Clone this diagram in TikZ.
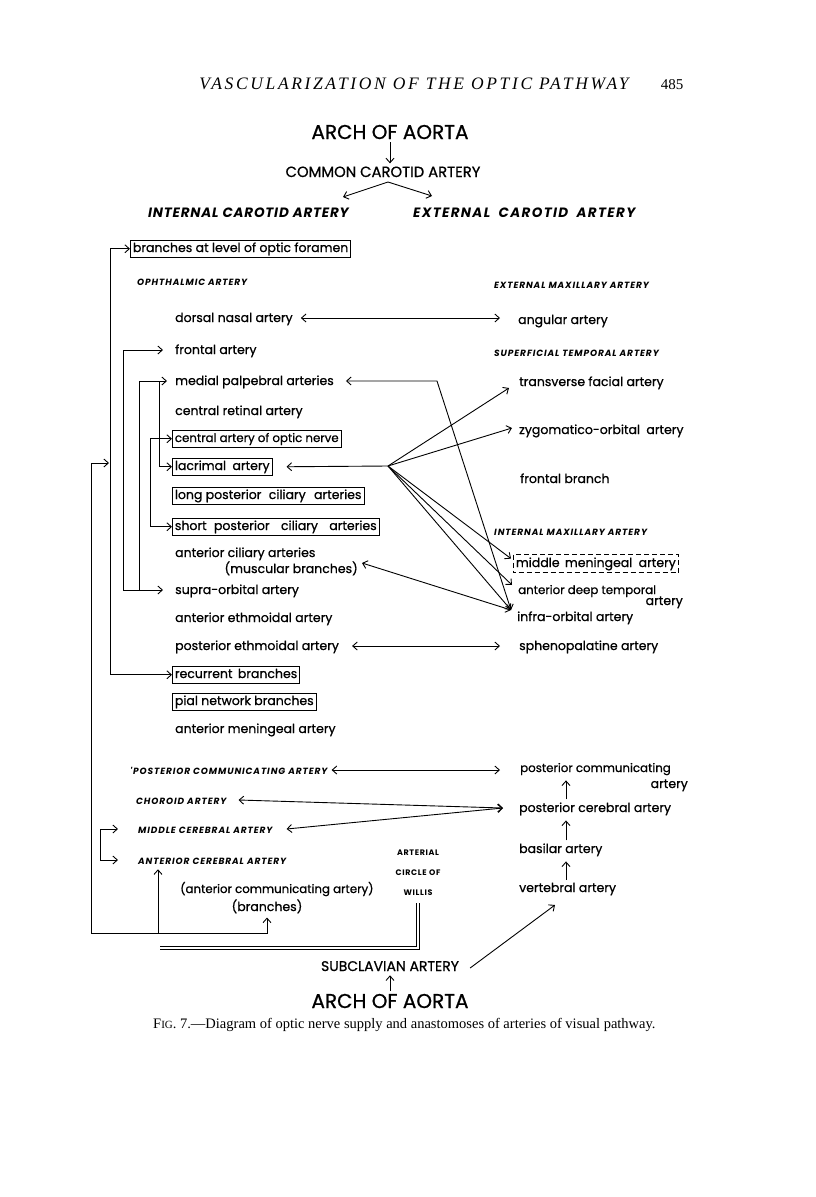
\documentclass[tikz,border=0pt]{standalone}
\usepackage{fontspec}
\setmainfont{Poppins}[FakeBold=0.8]
\newfontfamily\serif{Liberation Serif}
\newfontfamily\hdrfont{Liberation Serif}[LetterSpace=15]
\newfontfamily\hdfont{Poppins}[LetterSpace=10]
\newfontfamily\icafont{Poppins}[LetterSpace=6]
\newfontfamily\ecafont{Poppins}[LetterSpace=10]
\newfontfamily\wlfont{Poppins}[LetterSpace=8]
\usetikzlibrary{arrows.meta}
\newcommand{\gap}[1]{\hspace*{#1}}
\begin{document}
\begin{tikzpicture}[x=1pt,y=-1pt,
  every node/.style={inner sep=0pt, anchor=base west},
  txt/.style={font=\fontsize{12.5}{14}\selectfont},
  stxt/.style={font=\fontsize{11.8}{13}\selectfont},
  hd/.style={font=\hdfont\fontsize{9}{10}\selectfont\bfseries\itshape},
  bigcap/.style={font=\fontsize{13.5}{15}\selectfont\bfseries\itshape},
  wl/.style={font=\wlfont\fontsize{8}{9}\selectfont\bfseries, anchor=base},
  bx/.style={txt, draw, line width=0.8pt, inner xsep=2.5pt, inner ysep=2.5pt, text height=9.5pt, text depth=3pt},
  ln/.style={line width=0.9pt},
  arr/.style={ln, -{Straight Barb[length=4.5pt,width=8pt]}},
  dar/.style={ln, {Straight Barb[length=4.5pt,width=8pt]}-{Straight Barb[length=4.5pt,width=8pt]}},
]
\useasboundingbox[fill=white] (0,0) rectangle (816,1197);

% header
\node[font=\hdrfont\itshape\fontsize{17.5}{20}\selectfont, anchor=base] (hdr) at (414,89) {VASCULARIZATION OF THE OPTIC PATHWAY};
\node[font=\serif\fontsize{15}{17}\selectfont, anchor=base] (pg) at (672,89) {485};

% top
\node[font=\fontsize{20}{22}\selectfont, anchor=base] (arch1) at (390,139) {ARCH OF AORTA};
\node[font=\fontsize{14.8}{16}\selectfont, anchor=base] (cca) at (383,177) {COMMON CAROTID ARTERY};
\node[bigcap, font=\icafont\fontsize{13.5}{15}\selectfont\bfseries\itshape] (ica) at (148,217) {INTERNAL CAROTID ARTERY};
\node[bigcap, font=\ecafont\fontsize{13.5}{15}\selectfont\bfseries\itshape] (eca) at (413,217) {EXTERNAL\gap{4pt} CAROTID\gap{4pt} ARTERY};

% left column
\node[bx] (bal) at (130,252) {branches at level of optic foramen};
\node[hd] (oph) at (137,285) {OPHTHALMIC ARTERY};
\node[txt] (dn) at (175,322) {dorsal nasal artery};
\node[txt] (fr) at (175,354) {frontal artery};
\node[txt] (mp) at (175,385) {medial palpebral arteries};
\node[txt] (cr) at (175,415) {central retinal artery};
\node[bx, stxt] (caon) at (172,442) {central artery of optic nerve};
\node[bx] (lac) at (172,470) {lacrimal\gap{3pt} artery};
\node[bx] (lpca) at (172,499) {long posterior\gap{4pt} ciliary\gap{5pt} arteries};
\node[bx] (spca) at (172,530) {short\gap{4pt} posterior\gap{8pt} ciliary\gap{8pt} arteries};
\node[txt] (aca) at (175,557) {anterior ciliary arteries};
\node[txt, anchor=base east] (mb) at (358,573) {(muscular branches)};
\node[txt] (so) at (175,594) {supra-orbital artery};
\node[txt] (ae) at (175,622) {anterior ethmoidal artery};
\node[txt] (pe) at (175,650) {posterior ethmoidal artery};
\node[bx] (rec) at (172,678) {recurrent\gap{2pt} branches};
\node[bx] (pial) at (172,705) {pial network branches};
\node[txt] (am) at (175,733) {anterior meningeal artery};

% right column
\node[hd] (ema) at (494,288) {EXTERNAL MAXILLARY ARTERY};
\node[txt] (ang) at (518,324) {angular artery};
\node[hd] (sta) at (494,356) {SUPERFICIAL TEMPORAL ARTERY};
\node[txt] (tf) at (519,386) {transverse facial artery};
\node[txt] (zo) at (519,434) {zygomatico-orbital\gap{3pt} artery};
\node[txt] (fb) at (520,483) {frontal branch};
\node[hd] (ima) at (494,535) {INTERNAL MAXILLARY ARTERY};
\node[bx, draw=none] (mm) at (513,567) {middle\gap{2pt} meningeal\gap{3pt} artery};
\draw[ln, dash pattern=on 5pt off 3pt] (mm.north west) rectangle (mm.south east);
\node[stxt] (adt) at (518,594) {anterior deep temporal};
\node[txt, anchor=base east] (adt2) at (683,605) {artery};
\node[txt] (io) at (517,621) {infra-orbital artery};
\node[txt] (sp) at (519,650) {sphenopalatine artery};

% lower part
\node[hd] (pcomL) at (130,774) {'POSTERIOR COMMUNICATING ARTERY};
\node[stxt] (pcom) at (520,772) {posterior communicating};
\node[txt, anchor=base east] (pcom2) at (688,788) {artery};
\node[hd] (cho) at (136,804) {CHOROID ARTERY};
\node[txt] (pcer) at (519,812) {posterior cerebral artery};
\node[hd] (mca) at (138,833) {MIDDLE CEREBRAL ARTERY};
\node[txt] (bas) at (519,853) {basilar artery};
\node[hd] (acr) at (138,864) {ANTERIOR CEREBRAL ARTERY};
\node[wl] (w1) at (418,855) {ARTERIAL};
\node[wl] (w2) at (418,875) {CIRCLE OF};
\node[wl] (wil) at (418,895) {WILLIS};
\node[txt] (vert) at (519,892) {vertebral artery};
\node[stxt] (acom) at (180,893) {(anterior communicating artery)};
\node[txt, anchor=base] (brs) at (267,911) {(branches)};
\node[font=\fontsize{14}{16}\selectfont, anchor=base] (sub) at (390,971) {SUBCLAVIAN ARTERY};
\node[font=\fontsize{20}{22}\selectfont, anchor=base] (arch2) at (390,1008) {ARCH OF AORTA};
\node[font=\serif\fontsize{14.5}{16}\selectfont] (capn) at (153,1028) {F{\fontsize{11}{12}\selectfont IG}. 7.—Diagram of optic nerve supply and anastomoses of arteries of visual pathway.};

% ---------- coordinates ----------
\coordinate (L2x) at (110,0);
\coordinate (L3x) at (123,0);
\coordinate (L4x) at (139,0);
\coordinate (L5x) at (159,0);
\coordinate (L6x) at (150,0);
\coordinate (L7x) at (100,0);
\coordinate (acx) at (158,0);
\coordinate (rcx) at (566,0);
\coordinate (L1b) at (91,933);
\coordinate (L1tip) at (109,463);
\coordinate (hub) at (388,466);
\coordinate (mpc) at (437,381);
\coordinate (ccf) at (388,182);
\coordinate (icaT) at (343,197);
\coordinate (ecaT) at (432,196);
\coordinate (dblS) at (160,948);

\coordinate (frL) at ([xshift=-12pt,yshift=4pt]fr.base west);
\coordinate (mpL) at ([xshift=-8pt,yshift=4pt]mp.base west);
\coordinate (soL) at ([xshift=-12pt,yshift=4pt]so.base west);
\coordinate (recL) at (rec.west);
\coordinate (mcaL) at ([xshift=-20pt,yshift=4pt]mca.base west);
\coordinate (acrL) at ([xshift=-20pt,yshift=4pt]acr.base west);

\coordinate (tfT) at ([xshift=-10pt,yshift=-2pt]tf.base west);
\coordinate (zoT) at ([xshift=-7pt,yshift=6pt]zo.base west);
\coordinate (mmT) at ([xshift=-2pt,yshift=-4pt]mm.north west);
\coordinate (adtT) at ([xshift=-6pt,yshift=9pt]adt.base west);
\coordinate (ioT) at ([xshift=-6pt,yshift=11pt]io.base west);
\coordinate (lacT) at ([xshift=14pt]lac.east);
\coordinate (mpT) at ([xshift=12pt,yshift=4pt]mp.base east);
\coordinate (mbT) at ([xshift=4pt,yshift=10pt]mb.base east);

% ---------- connectors ----------
\draw[arr, shorten <=3pt, shorten >=3pt] (arch1.south) -- (arch1.south |- cca.north);
\draw[arr] (ccf) -- (icaT);
\draw[arr] (ccf) -- (ecaT);

\draw[dar] ([xshift=8pt,yshift=4pt]dn.base east) -- ([xshift=-18pt,yshift=6pt]ang.base west);
\draw[dar] (mpT) -- (mpc) -- (ioT);
\draw[arr] (hub) -- (lacT);
\draw[arr] (hub) -- (tfT);
\draw[arr] (hub) -- (zoT);
\draw[arr] (hub) -- (mmT);
\draw[arr] (hub) -- (adtT);
\draw[arr] (hub) -- (ioT);
\draw[dar] (mbT) -- (ioT);
\draw[dar] ([xshift=13pt,yshift=4pt]pe.base east) -- ([xshift=-19pt,yshift=4pt]sp.base west);

\draw[dar] ([xshift=4pt,yshift=4pt]pcomL.base east) -- ([xshift=-20pt,yshift=2pt]pcom.base west);
\draw[dar] ([xshift=12pt,yshift=4pt]cho.base east) -- ([xshift=-16pt,yshift=4pt]pcer.base west);
\draw[dar] ([xshift=14pt,yshift=4pt]mca.base east) -- ([xshift=-16pt,yshift=4pt]pcer.base west);

\draw[arr, shorten <=3pt, shorten >=5pt] (rcx |- pcer.north) -- (rcx |- pcom.south);
\draw[arr, shorten <=3pt, shorten >=5pt] (rcx |- bas.north) -- (rcx |- pcer.south);
\draw[arr, shorten <=3pt, shorten >=5pt] (rcx |- vert.north) -- (rcx |- bas.south);
\draw[arr] ([xshift=11pt,yshift=3pt]sub.base east) -- ([xshift=36pt,yshift=-13pt]vert.base west);
\draw[arr, shorten <=3pt, shorten >=4pt] (arch2.north) -- (sub.south);

% left brackets
\draw[dar] (bal.west) -| (L2x |- recL) -- (recL);
\draw[dar] (frL) -| (L3x |- soL) -- (soL);
\draw[arr] (L4x |- soL) |- (mpL);
\draw[arr] (L5x |- mpL) |- (lac.west);
\draw[dar] (caon.west) -| (L6x |- spca.west) -- (spca.west);
\draw[dar] (mcaL) -| (L7x |- acrL) -- (acrL);
\draw[dar, shorten <=4pt] (brs.south) -- (brs.south |- L1b) -- (L1b) -- (L1b |- L1tip) -- (L1tip);
\draw[arr, shorten >=5pt] (acx |- L1b) -- (acx |- acr.south);
\draw[ln, double, double distance=2.6pt, line width=0.7pt] (dblS) -| ([yshift=-8pt]wil.south);
\end{tikzpicture}
\end{document}
